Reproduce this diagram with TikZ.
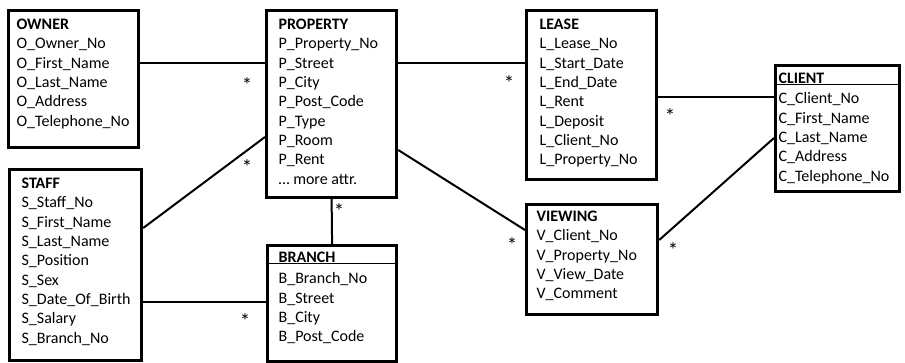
\documentclass[tikz,border=0pt]{standalone}
\usepackage{fontspec}
\setmainfont{Carlito}
\newcommand{\attrbox}[3]{\parbox[t][#1pt][t]{#2pt}{\strut #3}}

\begin{document}
\begin{tikzpicture}[x=1pt, y=-1pt]
    \tikzstyle{entity}=[draw, line width=3.2pt, anchor=north west, inner ysep=5.5pt, font=\fontsize{16}{19.3}\selectfont]
    \tikzstyle{link}=[line width=2pt]
    \tikzstyle{mult}=[anchor=base, inner sep=0pt, font=\fontsize{21}{21}\selectfont]

    \useasboundingbox (0,0) rectangle (905,363);

    \node[entity, inner xsep=8pt] (owner) at (7,9) {\attrbox{126}{114}{\textbf{OWNER}\\O\_Owner\_No\\O\_First\_Name\\O\_Last\_Name\\O\_Address\\O\_Telephone\_No}};
    \node[entity, inner xsep=12pt] (property) at (265,9) {\attrbox{176}{106}{\textbf{PROPERTY}\\P\_Property\_No\\P\_Street\\P\_City\\P\_Post\_Code\\P\_Type\\P\_Room\\P\_Rent\\\ldots{} more attr.}};
    \node[entity, inner xsep=13pt] (lease) at (525,9) {\attrbox{158}{104}{\textbf{LEASE}\\L\_Lease\_No\\L\_Start\_Date\\L\_End\_Date\\L\_Rent\\L\_Deposit\\L\_Client\_No\\L\_Property\_No}};
    \node[entity, inner xsep=3pt, inner ysep=4.5pt] (client) at (774,64) {\attrbox{117}{118}{\textbf{CLIENT}\\[1pt]C\_Client\_No\\C\_First\_Name\\C\_Last\_Name\\C\_Address\\C\_Telephone\_No}};
    \node[entity, inner xsep=12pt] (staff) at (8,168) {\attrbox{180}{108}{\textbf{STAFF}\\S\_Staff\_No\\S\_First\_Name\\S\_Last\_Name\\S\_Position\\S\_Sex\\S\_Date\_Of\_Birth\\S\_Salary\\S\_Branch\_No}};
    \node[entity, inner xsep=11pt, inner ysep=3.5pt] (branch) at (266,244) {\attrbox{109}{107}{\textbf{BRANCH}\\[2pt]B\_Branch\_No\\B\_Street\\B\_City\\B\_Post\_Code}};
    \node[entity, inner xsep=10pt, inner ysep=3.5pt] (viewing) at (525,203) {\attrbox{103}{111}{\textbf{VIEWING}\\V\_Client\_No\\V\_Property\_No\\V\_View\_Date\\V\_Comment}};

    % header rules
    \draw[semithick] ([yshift=-20pt]client.north west) -- ([yshift=-20pt]client.north east);
    \draw[semithick] ([yshift=-19pt]branch.north west) -- ([yshift=-19pt]branch.north east);

    % relationships
    \draw[link] ([yshift=-54pt]owner.north east) -- ([yshift=-54pt]property.north west);
    \draw[link] ([yshift=-54pt]property.north east) -- ([yshift=-54pt]lease.north west);
    \draw[link] ([yshift=-88pt]lease.north east) -- ([yshift=-33pt]client.north west);
    \draw[link] ([yshift=-74pt]client.north west) -- ([yshift=-37pt]viewing.north east);
    \draw[link] ([yshift=-141pt]property.north east) -- ([yshift=-27pt]viewing.north west);
    \draw[link] ([yshift=-60pt]staff.north east) -- ([yshift=-128pt]property.north west);
    \draw[link] ([yshift=-134pt]staff.north east) -- ([yshift=-58pt]branch.north west);
    \draw[link] (property.south) -- (branch.north);

    % multiplicities
    \node[mult] (m1) at (247,93) {*};
    \node[mult] (m2) at (509,91) {*};
    \node[mult] (m3) at (670,124) {*};
    \node[mult] (m4) at (673,258) {*};
    \node[mult] (m5) at (512,253) {*};
    \node[mult] (m6) at (247,175) {*};
    \node[mult] (m7) at (245,328) {*};
    \node[mult] (m8) at (339,219) {*};
\end{tikzpicture}
\end{document}
